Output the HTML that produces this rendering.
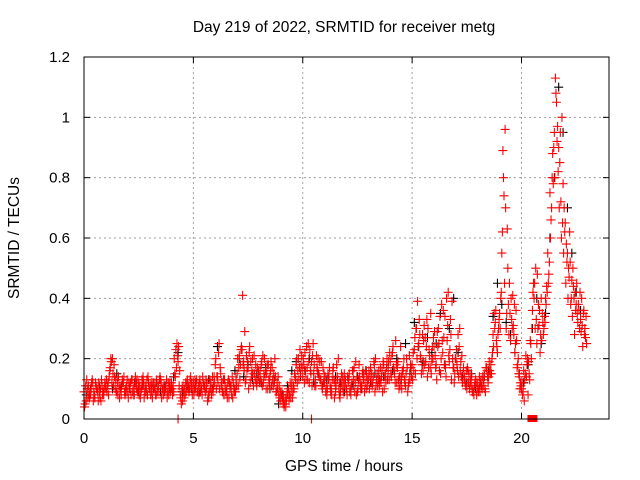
<!DOCTYPE html>
<html><head><meta charset="utf-8"><style>
html,body{margin:0;padding:0;background:#fff}
svg{display:block;font-family:"Liberation Sans",sans-serif}
</style></head><body>
<svg id="chart" width="640" height="480">
<rect width="640" height="480" fill="#fff"/>
<text x="344" y="32" font-size="15.5" text-anchor="middle">Day 219 of 2022, SRMTID for receiver metg</text>
<text x="344" y="471" font-size="15.5" text-anchor="middle">GPS time / hours</text>
<text transform="translate(19,238) rotate(-90)" font-size="15.5" text-anchor="middle">SRMTID / TECUs</text>
<g id="grid"></g><g id="ticks"></g><g id="marks"></g>
<rect x="84" y="57" width="525" height="362" fill="none" stroke="#000" stroke-width="1"/>
</svg>
<script>
const xTicks=[0,5,10,15,20];
const yTicks=[0,0.2,0.4,0.6,0.8,1,1.2];
const yTickLabels=["0","0.2","0.4","0.6","0.8","1","1.2"];
const stepHours=0.1;
const redA=[9,6,11,8,12,7,10,9,13,8,10,12,17,20,14,9,11,8,12,10,9,11,13,8,10,12,9,14,11,8,10,9,12,8,11,13,10,9,7,11,12,9,23,19,8,6,10,12,9,11,12,10,9,13,8,11,10,7,12,9,18,14,10,12,8,9,13,11,7,10,15,21,24,19,13,17,12,20,15,11,14,18,12,16,10,14,17,12,9,8,6,5,7,9,8,12,10,18,20,15,14,22,17,12,19,15,11,20,13,10,12,8,14,10,17,9,13,7,11,15,10,13,8,16,12,9,14,11,15,10,13,17,12,9,15,11,14,18,12,16,19,22,15,12,10,14,17,11,9,13,18,23,30,25,20,16,27,14,21,19,24,18,30,15,22,34,26,19,13,17,20,28,16,12,14,10,15,11,9,13,12,9,10,15,17,14,18,28,32,22,35,55,74,30,38,26,41,22,17,14,10,16,21,8,26,36,45,25,31,40,28,40,55,75,80,95,105,90,72,78,65,55,62,46,40,38,38,33,24,30];
const redB=[5,10,7,12,9,11,6,10,8,12,9,14,19,11,13,8,10,13,9,11,12,8,10,14,9,11,13,7,10,12,8,12,10,9,13,7,11,10,12,9,8,15,25,11,5,9,12,10,13,8,10,13,8,11,12,9,6,13,10,14,10,22,15,9,11,7,12,8,10,13,11,18,41,29,16,22,14,11,18,13,16,11,20,15,13,19,11,14,10,7,9,4,6,10,7,9,14,12,17,21,18,13,25,16,21,11,17,14,19,12,9,15,11,13,7,18,10,12,9,13,14,9,12,17,8,13,10,16,12,11,10,15,19,11,13,17,9,14,20,13,14,17,26,19,11,16,13,20,12,17,22,15,39,28,18,31,24,17,35,20,21,29,16,38,27,14,42,33,20,15,18,24,14,17,11,16,12,9,11,8,10,13,11,9,14,16,20,35,26,30,40,89,96,63,45,33,28,36,20,12,8,13,18,15,20,45,50,30,22,35,34,44,48,66,78,113,97,85,100,70,58,50,38,50,42,35,30,40,36,34];
const redC=[4,13,8,10,6,12,9,7,11,10,13,8,20,15,10,12,7,11,14,9,7,12,9,11,13,8,10,12,9,14,11,7,10,13,9,12,8,11,9,12,10,20,17,24,7,11,8,13,10,12,8,12,11,9,14,10,12,9,8,11,20,12,17,9,13,10,7,11,12,9,20,13,23,16,21,10,19,15,13,17,12,19,15,10,18,16,13,20,12,11,8,6,4,8,12,7,15,20,13,18,20,16,13,23,11,18,21,15,13,17,14,10,17,8,13,11,20,9,14,12,8,15,11,13,19,10,12,15,9,14,16,12,14,20,11,13,16,10,17,19,15,24,12,17,14,10,20,15,11,18,13,27,20,33,15,26,19,30,17,24,29,13,25,20,36,17,31,23,39,12,23,14,19,15,12,17,10,14,8,12,9,12,14,10,16,19,15,24,36,28,30,62,45,35,28,40,31,25,18,10,12,6,14,19,25,42,30,48,36,26,30,38,45,60,88,80,92,70,60,55,45,40,52,34,28,45,36,29,35,27];
const redD=[11,7,9,13,8,10,12,6,9,11,11,16,12,18,9,14,10,12,8,13,10,13,8,12,10,7,11,9,13,10,12,10,8,11,14,10,9,13,8,10,11,14,21,16,10,7,9,11,14,10,13,9,12,10,11,13,8,10,14,12,14,25,11,13,9,12,10,14,9,11,17,23,18,12,19,24,16,21,12,16,13,21,14,18,12,11,15,9,14,9,7,5,8,6,10,11,13,16,23,17,12,24,19,15,25,13,16,19,11,15,10,13,9,16,12,14,8,15,12,10,12,10,16,9,14,18,11,13,16,13,14,11,18,13,16,12,19,15,13,22,21,16,18,13,24,15,12,17,21,14,16,30,24,21,28,18,33,23,15,27,17,24,34,26,18,40,21,28,17,20,16,30,21,13,16,12,13,10,12,10,14,11,13,17,12,15,22,30,24,33,42,80,70,50,35,30,38,26,15,11,9,15,20,13,30,40,33,38,28,32,32,42,52,70,90,108,82,95,65,62,52,47,40,44,36,32,42,31,28,25];
const blackStep=0.2;
const blackC=[8,10,7,11,9,12,10,15,11,9,10,12,9,11,8,10,12,9,11,10,14,22,9,11,10,12,9,11,13,10,24,12,9,11,16,20,14,18,13,15,12,17,10,13,5,8,11,16,19,14,16,20,12,15,11,13,10,14,12,9,13,11,14,10,16,12,15,13,14,17,16,20,13,25,15,32,24,19,27,22,25,35,18,30,40,22,14,12,15,10,11,14,16,34,45,38,32,28,22,15,12,18,30,40,25,35,60,80,110,95,70,55,42,36,30];
const zeroHours=[4.3,10.4];

const X=h=>84+h*525/24, Y=v=>419-v*362/1.2;
const NS="http://www.w3.org/2000/svg";
const grid=document.getElementById('grid'),ticks=document.getElementById('ticks'),marks=document.getElementById('marks');
function mk(t,a,p){const e=document.createElementNS(NS,t);for(const k in a)e.setAttribute(k,a[k]);p.appendChild(e);return e;}
xTicks.forEach(h=>{
  if(h>0){const g=mk('line',{x1:X(h),x2:X(h),y1:57,y2:419,stroke:'#a0a0a0','stroke-dasharray':'2,3'},grid);
  
  }
  mk('line',{x1:X(h),x2:X(h),y1:419,y2:413,stroke:'#000'},ticks);
  mk('line',{x1:X(h),x2:X(h),y1:57,y2:63,stroke:'#000'},ticks);
  const t=mk('text',{x:X(h),y:443,'font-size':15,'text-anchor':'middle'},ticks);t.textContent=h;
  
  
});
yTicks.forEach((v,i)=>{
  if(v>0&&v<1.2){const g=mk('line',{x1:84,x2:609,y1:Y(v),y2:Y(v),stroke:'#a0a0a0','stroke-dasharray':'2,3'},grid);
  
  }
  mk('line',{x1:84,x2:90,y1:Y(v),y2:Y(v),stroke:'#000'},ticks);
  mk('line',{x1:609,x2:603,y1:Y(v),y2:Y(v),stroke:'#000'},ticks);
  const t=mk('text',{x:70,y:Y(v)+5,'font-size':15,'text-anchor':'end'},ticks);t.textContent=yTickLabels[i];
  
  
});
function plus(h,v,col){
  const x=X(h),y=Y(v);
  const p=mk('path',{d:`M${x-4.5} ${y}h9M${x} ${y-4.5}v9`,stroke:col,'stroke-width':1.1,fill:'none'},marks);
  
  
}
blackC.forEach((v,i)=>plus(i*blackStep+0.1,v/100,'#000'));
redA.forEach((v,i)=>plus(i*stepHours,v/100,'#f00'));
redB.forEach((v,i)=>plus(i*stepHours+0.05,v/100,'#f00'));
redC.forEach((v,i)=>plus(i*stepHours+0.025,v/100,'#f00'));
redD.forEach((v,i)=>plus(i*stepHours+0.075,v/100,'#f00'));
zeroHours.forEach(h=>plus(h,0,'#f00'));
const sq=mk('rect',{x:X(20.5)-5,y:415,width:10,height:7,fill:'#f00'},marks);


</script>
</body></html>
